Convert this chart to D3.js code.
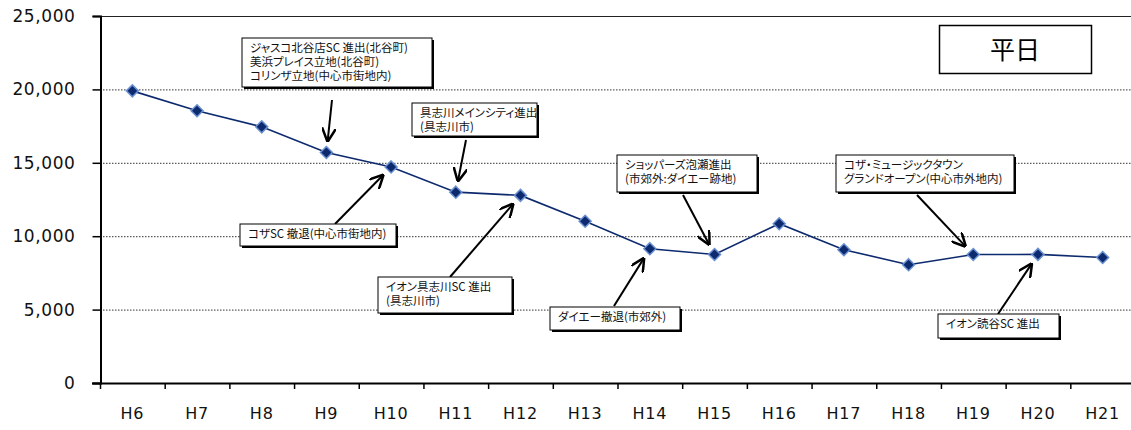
<!DOCTYPE html>
<html><head><meta charset="utf-8">
<script src="https://cdn.jsdelivr.net/npm/d3@7"></script>
<style>body{margin:0;background:#fff}svg{display:block}.note{font-feature-settings:"palt" 1}</style>
</head><body>
<svg id="c" width="1131" height="430"></svg>
<script>
const categories = ["H6","H7","H8","H9","H10","H11","H12","H13","H14","H15","H16","H17","H18","H19","H20","H21"];
const values = [19900,18550,17450,15700,14720,13000,12780,11020,9150,8750,10850,9080,8060,8750,8760,8550];
const yTicks = [0,5000,10000,15000,20000,25000];
const notes = [
  {lines:["ジャスコ北谷店SC 進出(北谷町)","美浜プレイス立地(北谷町)","コリンザ立地(中心市街地内)"], target:"H9"},
  {lines:["具志川メインシティ進出","(具志川市)"], target:"H11"},
  {lines:["コザSC 撤退(中心市街地内)"], target:"H10"},
  {lines:["イオン具志川SC 進出","(具志川市)"], target:"H12"},
  {lines:["ダイエー撤退(市郊外)"], target:"H14"},
  {lines:["ショッパーズ泡瀬進出","(市郊外:ダイエー跡地)"], target:"H15"},
  {lines:["コザ・ミュージックタウン","グランドオープン(中心市外地内)"], target:"H19"},
  {lines:["イオン読谷SC 進出"], target:"H20"}
];
const title = "平日";

// layout (positions only, not data)
const L = 100, R = 1135, T = 16, B = 383;
const boxes = [
  {x:242,y:38,w:190,h:49, ax:332, ay:100},
  {x:412,y:103,w:125,h:33, ax:466, ay:140},
  {x:240,y:224,w:156,h:22, ax:335, ay:224},
  {x:378,y:277,w:134,h:36, ax:450, ay:277},
  {x:550,y:307,w:130,h:23, ax:614, ay:306},
  {x:617,y:155,w:140,h:37, ax:683, ay:195},
  {x:836,y:155,w:178,h:37, ax:917, ay:195},
  {x:938,y:314,w:121,h:24, ax:998, ay:314}
];

const svg = d3.select("#c");
const x = d3.scaleBand().domain(categories).range([L, R]);
const y = d3.scaleLinear().domain([0, 25000]).range([B, T]);

// gridlines
svg.append("g").selectAll("line").data(yTicks.filter(d => d > 0)).join("line")
  .attr("x1", L).attr("x2", 1131).attr("y1", d => y(d) + 0.5).attr("y2", d => y(d) + 0.5)
  .attr("stroke", d => d === 25000 ? "#222" : "#333").attr("stroke-width", 1)
  .attr("stroke-dasharray", d => d === 25000 ? null : "1.5,1.5");

// y axis
const ya = svg.append("g").attr("transform", `translate(${L + 0.5},0)`)
  .call(d3.axisLeft(y).tickValues(yTicks).tickFormat(d3.format(",")).tickSizeOuter(0).tickSize(8).tickPadding(17));
ya.select(".domain").attr("stroke", "#000").attr("stroke-width", 2);
ya.selectAll(".tick line").attr("stroke", "#000").attr("stroke-width", 1.5);
ya.selectAll("text").attr("font-family", "Verdana, 'DejaVu Sans', sans-serif").attr("font-size", 17)
  .attr("letter-spacing", 0.6).attr("fill", "#111");

// x axis
const xa = svg.append("g").attr("transform", `translate(0,${B + 0.5})`)
  .call(d3.axisBottom(x).tickSize(0).tickPadding(24));
xa.select(".domain").attr("stroke", "#000").attr("stroke-width", 2).attr("d", `M${L - 8},0H1131`);
xa.selectAll("text").attr("font-family", "Verdana, 'DejaVu Sans', sans-serif").attr("font-size", 16)
  .attr("letter-spacing", 0.8).attr("fill", "#111");
svg.append("g").selectAll("line").data(categories).join("line")
  .attr("x1", d => x(d) + 0.5).attr("x2", d => x(d) + 0.5).attr("y1", B).attr("y2", B + 6)
  .attr("stroke", "#000").attr("stroke-width", 1.5);

// line
const cx = d => x(d) + x.bandwidth() / 2;
svg.append("path").datum(values)
  .attr("d", d3.line().x((d, i) => cx(categories[i])).y(d => y(d)))
  .attr("fill", "none").attr("stroke", "#0d2a6e").attr("stroke-width", 1.6);
svg.append("g").selectAll("path").data(values).join("path")
  .attr("d", "M0,-6L6,0L0,6L-6,0Z")
  .attr("transform", (d, i) => `translate(${cx(categories[i])},${y(d)})`)
  .attr("fill", "#0d2a6e").attr("stroke", "#6a8fd0").attr("stroke-width", 1.5);

// annotations
svg.append("defs").append("marker").attr("id", "ah").attr("viewBox", "0 0 10 10")
  .attr("refX", 9).attr("refY", 5).attr("markerWidth", 7).attr("markerHeight", 7).attr("orient", "auto")
  .append("path").attr("d", "M0,0 L10,5 L0,10").attr("fill", "none").attr("stroke", "#000").attr("stroke-width", 1.8);

notes.forEach((n, i) => {
  const b = boxes[i];
  const i2 = categories.indexOf(n.target);
  const px = cx(n.target), py = y(values[i2]);
  const ang = Math.atan2(py - b.ay, px - b.ax);
  const ex = px - Math.cos(ang) * 12, ey = py - Math.sin(ang) * 12;
  svg.append("line").attr("x1", b.ax).attr("y1", b.ay).attr("x2", ex).attr("y2", ey)
    .attr("stroke", "#000").attr("stroke-width", 2).attr("marker-end", "url(#ah)");
  const g = svg.append("g");
  g.append("rect").attr("x", b.x + 2).attr("y", b.y + 2).attr("width", b.w).attr("height", b.h).attr("fill", "#000");
  g.append("rect").attr("x", b.x).attr("y", b.y).attr("width", b.w).attr("height", b.h)
    .attr("fill", "#fff").attr("stroke", "#000").attr("stroke-width", 1);
  const t = g.append("text").attr("class", "note")
    .attr("font-family", "'Noto Sans CJK JP', sans-serif").attr("font-size", 11.5).attr("fill", "#111");
  t.selectAll("tspan").data(n.lines).join("tspan")
    .attr("x", b.x + 8).attr("y", (d, k) => b.y + 14 + k * 14)
    .text(d => d);
});

// title box
const tb = svg.append("g");
tb.append("rect").attr("x", 939.5).attr("y", 25.5).attr("width", 152).attr("height", 48)
  .attr("fill", "#fff").attr("stroke", "#000").attr("stroke-width", 1.5);
tb.append("text").attr("x", 1015).attr("y", 59).attr("text-anchor", "middle")
  .attr("font-family", "'Noto Sans CJK JP', sans-serif").attr("font-size", 25).text(title);
</script>
</body></html>
